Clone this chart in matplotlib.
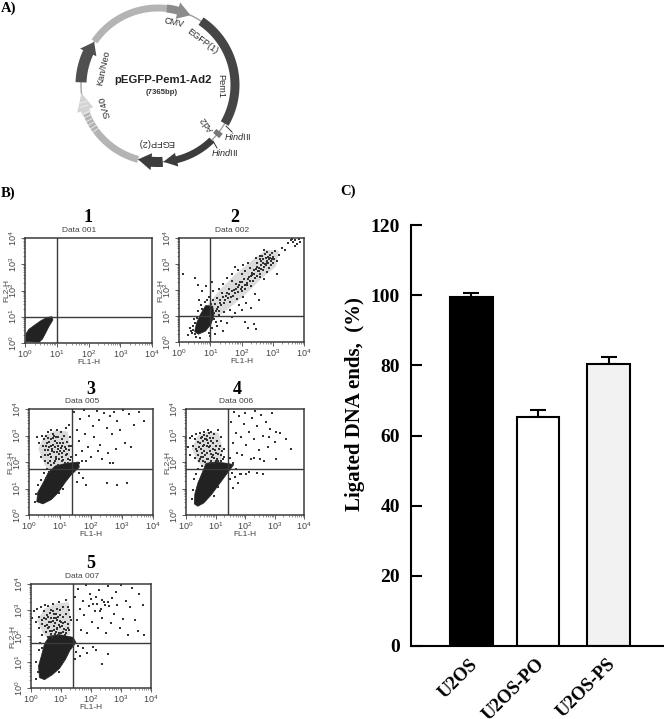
import numpy as np
import matplotlib
matplotlib.use("Agg")
import matplotlib.pyplot as plt
from matplotlib.patches import Polygon
from matplotlib.ticker import LogLocator, NullFormatter

plt.rcParams["font.family"] = ["Liberation Sans", "DejaVu Sans"]
plt.rcParams["mathtext.fontset"] = "custom"
plt.rcParams["mathtext.rm"] = "Liberation Sans"
plt.rcParams["mathtext.it"] = "Liberation Sans:italic"

W, H = 664, 719

# Panel C values
groups = ["U2OS", "U2OS-PO", "U2OS-PS"]
ligated = [99.5, 65.2, 80.3]
ligated_err = [1.2, 2.1, 2.0]
bar_colors = ["black", "white", "#f2f2f2"]
yticks_c = [0, 20, 40, 60, 80, 100, 120]

# Plasmid map segments: start angle, end angle, tip angle, width, head width, colour
seg_start = [145.5, 83.5, 56, -45.7, -86.5, -105, 178]
seg_end = [83.5, 75, -30, -76, -95, -160, 155]
seg_tip = [83.5, 65, -30, -86, -105, -160, 146]
seg_width = [7, 8, 9, 7, 10, 7, 11]
seg_head = [7, 17, 9, 14, 17, 7, 18]
seg_color = ["#b4b4b4", "#8c8c8c", "#454545", "#3c3c3c", "#3c3c3c", "#b4b4b4", "#505050"]

# Flow cytometry gates in log10 units (FL1-H, FL2-H)
gate_x = [1.0, 1.0, 1.40, 1.43, 1.41]
gate_y = [1.0, 1.0, 1.73, 1.74, 1.725]

# Dense cores read as outlines, log10 units
p1_core = [(0.03, 0.05), (0.03, 0.35), (0.12, 0.52), (0.3, 0.68), (0.5, 0.85), (0.7, 0.98), (0.85, 1.0),
           (0.88, 0.88), (0.75, 0.62), (0.65, 0.38), (0.55, 0.15), (0.45, 0.03)]
p2_core = [(0.5, 0.4), (0.56, 0.72), (0.68, 1.05), (0.85, 1.4), (1.08, 1.38), (1.12, 1.02), (1.02, 0.68), (0.85, 0.42), (0.62, 0.3)]
p3_core = [(0.25, 0.5), (0.28, 0.85), (0.45, 1.2), (0.62, 1.6), (0.85, 1.85), (1.2, 1.95), (1.6, 2.0), (1.62, 1.8),
           (1.35, 1.5), (1.15, 1.2), (0.95, 0.85), (0.72, 0.58), (0.45, 0.42)]
p4_core = [(0.28, 0.42), (0.3, 0.8), (0.4, 1.2), (0.55, 1.6), (0.68, 1.95), (1.0, 2.0), (1.4, 1.95), (1.62, 1.9),
           (1.45, 1.65), (1.25, 1.35), (1.05, 1.05), (0.85, 0.75), (0.6, 0.45), (0.4, 0.33)]
p5_core = [(0.28, 0.4), (0.25, 0.85), (0.35, 1.25), (0.45, 1.7), (0.62, 2.0), (0.95, 2.05), (1.4, 1.95), (1.5, 1.75),
           (1.3, 1.45), (1.15, 1.1), (0.95, 0.75), (0.7, 0.5), (0.45, 0.32)]

# Looser speckled regions, log10 units
p2_lobe = [(0.9, 1.4), (1.3, 2.0), (1.8, 2.6), (2.4, 3.2), (2.8, 3.55), (3.2, 3.5), (3.1, 2.9), (2.6, 2.4), (2.1, 1.8),
           (1.6, 1.3), (1.2, 0.95)]
p3_lobe = [(0.3, 2.5), (0.5, 3.0), (0.85, 3.2), (1.25, 3.15), (1.35, 2.5), (1.3, 2.0), (1.0, 1.8), (0.7, 1.6), (0.5, 1.9)]
p4_lobe = [(0.2, 2.5), (0.4, 3.0), (0.75, 3.15), (1.1, 3.1), (1.25, 2.5), (1.2, 2.0), (0.9, 1.9), (0.6, 1.8), (0.4, 2.0)]
p5_lobe = [(0.2, 2.6), (0.45, 3.05), (0.85, 3.25), (1.25, 3.3), (1.32, 2.6), (1.3, 2.05), (0.95, 1.95), (0.6, 1.85), (0.4, 2.1)]

p2_points = [(0.12, 2.62), (0.5, 2.45), (0.62, 2.2), (0.82, 1.55), (0.85, 2.15), (0.95, 1.75), (0.42, 0.35), (0.35, 0.55),
             (0.3, 0.28), (0.45, 0.62), (0.55, 0.2), (0.68, 0.15), (0.48, 0.9), (0.62, 1.2), (0.7, 1.42), (0.88, 1.62),
             (1.02, 1.48), (1.15, 1.45), (1.22, 1.7), (1.18, 1.2), (1.28, 1.05), (1.12, 0.88), (1.35, 0.82), (1.55, 0.72),
             (1.2, 0.62), (1.05, 0.52), (0.95, 0.35), (1.45, 1.15), (1.35, 1.42), (1.48, 1.62), (1.55, 1.9), (1.38, 1.88),
             (1.28, 2.05), (1.42, 2.25), (1.62, 1.55), (1.72, 1.78), (1.6, 2.05), (1.75, 2.0), (1.85, 1.65), (1.9, 1.92),
             (1.82, 2.22), (1.68, 2.35), (1.52, 2.48), (1.7, 2.62), (1.95, 2.32), (2.02, 2.12), (2.05, 1.75), (2.15, 1.5),
             (2.12, 2.05), (2.08, 2.42), (2.0, 2.62), (1.9, 2.78), (2.18, 2.28), (2.25, 2.5), (2.12, 2.72), (2.05, 2.95),
             (2.3, 2.15), (2.38, 2.35), (2.42, 1.85), (2.55, 1.6), (2.32, 2.65), (2.28, 2.85), (2.4, 2.78), (2.22, 3.05),
             (2.48, 2.55), (2.55, 2.85), (2.6, 2.62), (2.5, 3.05), (2.62, 3.12), (2.68, 2.78), (2.72, 2.42), (2.75, 3.0),
             (2.78, 3.25), (2.65, 3.32), (2.82, 3.12), (2.88, 2.85), (2.9, 3.35), (2.95, 3.1), (2.8, 3.45), (3.0, 3.28),
             (3.02, 3.05), (3.08, 3.5), (3.12, 2.6), (3.2, 3.35), (2.72, 3.55), (2.58, 3.3), (2.45, 3.22), (2.85, 3.02),
             (2.98, 3.42), (3.28, 3.62), (3.4, 3.55), (3.65, 3.85), (3.72, 3.92), (3.78, 3.78), (3.58, 3.92), (3.85, 3.95),
             (3.7, 3.7), (3.5, 3.8), (3.62, 3.98), (3.88, 3.85), (2.1, 0.78), (2.22, 0.55), (2.4, 0.7), (2.45, 0.5),
             (1.7, 0.95), (1.78, 1.1), (2.0, 1.25), (2.3, 1.3), (0.65, 1.62), (0.72, 1.95), (1.08, 1.98), (1.05, 2.3),
             (0.98, 0.22), (1.15, 0.3), (1.4, 0.42), (1.78, 2.88), (1.62, 1.22), (1.92, 1.42), (1.98, 2.05), (2.28, 2.35),
             (2.35, 2.58), (2.52, 2.72), (2.62, 2.95), (2.7, 3.18), (2.78, 2.95), (2.85, 3.28), (2.92, 3.22), (2.68, 3.05),
             (2.58, 2.5), (2.42, 2.45), (2.18, 2.18), (2.02, 1.98), (1.88, 2.1), (1.78, 1.88), (1.65, 1.72), (1.58, 1.68),
             (1.45, 1.5), (1.32, 1.62), (1.25, 1.35), (1.1, 1.6), (3.05, 3.18), (2.95, 2.95), (2.82, 2.68), (3.15, 3.1),
             (1.12, 1.12), (1.22, 1.28), (1.3, 1.5), (1.4, 1.72), (1.5, 1.78), (1.6, 1.85), (1.7, 1.95), (1.82, 2.02),
             (1.92, 2.2), (2.0, 2.3), (2.1, 2.2), (2.2, 2.42), (2.3, 2.52), (2.4, 2.62), (2.45, 2.82), (2.55, 2.72),
             (2.62, 2.82), (2.72, 2.88), (2.8, 3.05), (2.75, 3.38), (2.88, 3.18), (2.98, 3.18), (2.6, 3.18), (2.5, 2.9),
             (0.45, 0.48), (0.38, 0.42), (0.5, 0.3), (0.58, 0.92), (0.52, 0.72), (0.75, 1.28), (1.18, 0.78), (1.28, 1.2)]

p3_points = [(0.25, 2.95), (0.32, 2.72), (0.38, 2.2), (0.42, 3.0), (0.48, 2.85), (0.5, 2.45), (0.55, 2.98), (0.58, 2.7),
             (0.6, 2.25), (0.62, 3.12), (0.65, 2.55), (0.68, 2.05), (0.7, 2.85), (0.72, 3.2), (0.75, 2.4), (0.78, 2.65),
             (0.8, 1.95), (0.82, 3.0), (0.85, 2.8), (0.88, 2.2), (0.9, 3.22), (0.92, 2.5), (0.95, 2.95), (0.98, 2.1),
             (1.0, 2.7), (1.02, 3.15), (1.05, 2.35), (1.08, 2.85), (1.1, 2.08), (1.12, 3.0), (1.15, 2.55), (1.18, 2.25),
             (1.2, 3.3), (1.22, 2.75), (1.25, 2.1), (1.28, 3.38), (1.3, 2.45), (1.32, 2.95), (1.35, 2.2), (0.62, 2.9),
             (0.72, 2.62), (0.82, 2.38), (0.9, 2.72), (1.0, 2.42), (1.08, 2.62), (0.78, 3.05), (0.88, 2.95), (0.68, 2.32),
             (0.58, 1.75), (0.48, 1.6), (0.4, 1.32), (0.3, 1.15), (0.22, 0.8), (0.18, 0.5), (0.65, 1.62), (0.55, 1.38),
             (1.45, 3.9), (1.55, 3.2), (1.6, 2.8), (1.65, 3.62), (1.7, 2.4), (1.78, 3.95), (1.82, 3.05), (1.9, 2.55),
             (1.95, 3.72), (2.0, 2.2), (2.05, 3.35), (2.1, 2.95), (2.18, 3.92), (2.25, 3.6), (2.3, 2.65), (2.35, 2.1),
             (2.42, 3.85), (2.5, 3.3), (2.55, 2.35), (2.6, 3.75), (2.68, 3.05), (2.75, 3.88), (2.8, 2.5), (2.85, 3.55),
             (2.95, 3.2), (3.02, 3.95), (3.1, 2.7), (3.22, 3.82), (3.3, 2.55), (3.4, 3.4), (3.55, 3.9), (3.7, 3.55),
             (1.5, 2.25), (1.85, 2.05), (2.22, 2.4), (2.62, 1.95), (2.72, 1.95), (1.6, 1.95), (1.72, 2.05), (1.62, 1.58),
             (1.75, 1.4), (1.55, 1.25), (2.5, 1.2), (2.85, 1.15), (3.15, 1.22), (1.85, 1.12), (0.98, 0.82), (1.1, 1.0),
             (0.44, 2.62), (0.52, 2.28), (0.56, 2.6), (0.6, 2.45), (0.66, 2.75), (0.7, 2.18), (0.74, 2.5), (0.76, 2.9),
             (0.84, 2.58), (0.86, 2.12), (0.9, 2.38), (0.94, 2.62), (0.96, 2.3), (1.04, 2.52), (1.06, 2.18), (1.1, 2.72),
             (1.14, 2.4), (1.2, 2.5), (1.24, 2.3), (1.28, 2.62), (0.6, 1.95), (0.72, 1.88), (0.85, 2.02), (0.95, 1.9),
             (1.05, 2.02), (1.15, 1.98), (1.25, 1.98), (0.5, 2.05), (1.35, 2.6), (1.32, 2.08)]

p4_points = [(0.08, 2.55), (0.12, 2.9), (0.15, 2.25), (0.22, 3.0), (0.25, 2.6), (0.3, 2.15), (0.32, 2.85), (0.35, 3.05),
             (0.38, 2.4), (0.42, 2.75), (0.45, 2.05), (0.48, 3.1), (0.52, 2.5), (0.55, 2.95), (0.58, 2.2), (0.6, 3.15),
             (0.62, 2.65), (0.65, 2.0), (0.68, 2.85), (0.7, 3.0), (0.72, 2.35), (0.75, 3.2), (0.78, 2.55), (0.8, 1.95),
             (0.82, 2.9), (0.85, 3.15), (0.88, 2.2), (0.9, 2.7), (0.95, 3.05), (0.98, 2.45), (1.0, 2.05), (1.05, 2.8),
             (1.08, 3.2), (1.1, 2.3), (1.15, 2.6), (1.2, 2.95), (1.25, 2.1), (1.3, 2.5), (0.5, 2.92), (0.62, 3.02),
             (0.55, 2.35), (0.7, 2.6), (0.82, 2.42), (0.92, 2.25), (0.78, 3.08), (0.48, 2.72), (0.4, 2.28), (0.58, 2.78),
             (0.28, 1.35), (0.25, 0.95), (0.22, 0.6), (0.42, 1.75), (0.55, 1.85), (0.35, 1.55), (1.1, 1.05), (0.95, 0.72),
             (1.48, 2.15), (1.52, 3.5), (1.58, 2.7), (1.62, 3.9), (1.68, 3.1), (1.72, 2.35), (1.8, 3.72), (1.85, 2.95),
             (1.9, 2.25), (1.95, 3.45), (2.0, 3.85), (2.05, 2.65), (2.12, 3.15), (2.2, 2.1), (2.25, 3.65), (2.3, 2.85),
             (2.35, 3.92), (2.42, 3.35), (2.48, 2.45), (2.55, 3.78), (2.6, 3.0), (2.65, 2.05), (2.72, 3.5), (2.78, 2.55),
             (2.85, 3.25), (2.92, 3.85), (3.0, 2.75), (3.05, 2.1), (3.2, 3.1), (3.4, 2.85), (3.55, 2.5), (1.58, 1.95),
             (1.7, 1.72), (1.82, 1.55), (1.65, 1.45), (1.75, 1.2), (1.88, 1.55), (2.15, 1.62), (2.4, 1.58), (2.62, 1.55),
             (1.6, 1.02), (2.05, 1.55), (2.3, 2.15), (2.8, 2.95), (3.05, 3.15), (2.52, 2.1), (1.55, 1.6), (1.5, 1.35),
             (0.34, 2.5), (0.44, 2.58), (0.5, 2.2), (0.56, 2.62), (0.6, 2.42), (0.64, 2.88), (0.66, 2.25), (0.74, 2.72),
             (0.76, 2.12), (0.8, 2.62), (0.84, 2.3), (0.86, 2.78), (0.92, 2.5), (0.96, 2.15), (1.0, 2.6), (1.02, 2.35),
             (1.06, 2.12), (1.12, 2.48), (1.18, 2.28), (1.22, 2.42), (0.46, 2.12), (0.58, 2.05), (0.7, 2.1), (0.86, 2.05),
             (0.96, 1.98), (1.1, 2.05), (1.2, 2.02), (1.3, 2.2), (0.72, 2.82), (0.9, 2.92)]

p5_points = [(0.02, 2.7), (0.1, 2.95), (0.15, 2.55), (0.2, 3.05), (0.25, 2.75), (0.28, 2.3), (0.32, 3.1), (0.35, 2.6),
             (0.38, 2.05), (0.42, 2.95), (0.45, 3.2), (0.48, 2.4), (0.52, 2.8), (0.55, 1.95), (0.58, 3.15), (0.6, 2.55),
             (0.62, 2.2), (0.65, 3.0), (0.68, 2.7), (0.7, 1.98), (0.72, 3.25), (0.75, 2.4), (0.78, 2.85), (0.82, 2.15),
             (0.85, 3.05), (0.88, 2.6), (0.9, 2.02), (0.92, 3.3), (0.95, 2.35), (0.98, 2.8), (1.0, 2.1), (1.05, 3.1),
             (1.08, 2.5), (1.12, 2.05), (1.15, 2.85), (1.18, 3.4), (1.22, 2.3), (1.28, 3.0), (1.32, 2.6), (0.5, 2.65),
             (0.62, 2.88), (0.72, 2.58), (0.82, 2.68), (0.92, 2.42), (0.78, 2.25), (0.58, 2.32), (1.0, 2.55), (0.88, 2.28),
             (0.15, 0.35), (0.22, 0.6), (0.18, 1.0), (0.25, 1.45), (0.3, 1.75), (0.38, 1.55), (1.05, 1.0), (0.92, 0.6),
             (1.48, 3.5), (1.52, 2.6), (1.58, 3.8), (1.62, 3.05), (1.68, 2.25), (1.72, 3.35), (1.78, 2.8), (1.82, 3.95),
             (1.88, 2.1), (1.92, 3.15), (1.98, 3.6), (2.02, 2.55), (2.08, 3.25), (2.12, 2.95), (2.18, 3.5), (2.22, 2.3),
             (2.28, 3.78), (2.32, 3.05), (2.38, 2.7), (2.42, 3.3), (2.5, 2.1), (2.55, 3.92), (2.6, 3.15), (2.65, 2.5),
             (2.7, 3.45), (2.75, 2.85), (2.82, 3.7), (2.88, 3.2), (2.95, 2.3), (3.0, 3.95), (3.08, 2.65), (3.15, 3.35),
             (3.22, 2.05), (3.3, 3.1), (3.38, 3.85), (3.45, 2.6), (3.6, 3.6), (3.72, 3.2), (3.78, 2.05), (3.55, 2.2),
             (2.0, 3.42), (2.2, 3.25), (2.35, 3.4), (2.48, 3.18), (2.58, 3.32), (2.3, 2.95), (1.55, 1.6), (1.5, 1.4),
             (1.62, 1.22), (1.72, 1.52), (1.88, 1.35), (2.05, 1.58), (2.18, 1.45), (2.55, 1.3), (2.38, 0.92), (1.45, 1.1),
             (0.36, 2.45), (0.44, 2.7), (0.5, 2.15), (0.56, 2.75), (0.6, 2.35), (0.66, 2.55), (0.7, 2.2), (0.76, 2.7),
             (0.8, 2.5), (0.84, 2.85), (0.86, 2.32), (0.9, 2.72), (0.94, 2.12), (0.96, 2.58), (1.02, 2.4), (1.06, 2.72),
             (1.1, 2.28), (1.14, 2.55), (1.18, 2.12), (1.24, 2.48), (1.28, 2.25), (1.3, 2.72), (0.66, 2.08), (0.8, 2.08),
             (1.05, 2.15), (1.15, 2.25), (0.52, 2.42), (0.74, 2.95), (1.22, 3.1), (0.98, 3.0)]

# Flow panel boxes in pixels: left, right, top, bottom
panel_boxes = [(25, 152, 238, 343), (179, 304, 238, 342), (29, 153, 409, 515), (186, 304, 409, 515), (31, 151, 584, 688)]
panel_names = ["1", "2", "3", "4", "5"]
panel_name_x = [88, 235, 91, 237, 91]
panel_data = ["Data 001", "Data 002", "Data 005", "Data 006", "Data 007"]
panel_core = [p1_core, p2_core, p3_core, p4_core, p5_core]
panel_lobe = [[], p2_lobe, p3_lobe, p4_lobe, p5_lobe]
panel_points = [[], p2_points, p3_points, p4_points, p5_points]


def px_axes(left, right, top, bottom):
    return fig.add_axes([left / W, 1 - bottom / H, (right - left) / W, (bottom - top) / H])


fig = plt.figure(figsize=(W / 100, H / 100), dpi=100, facecolor="white")

# overlay in pixel coordinates for the plasmid map and panel letters
bg = fig.add_axes([0, 0, 1, 1])
bg.set_xlim(0, W)
bg.set_ylim(H, 0)
bg.axis("off")

cx, cy, rad = 158, 85, 77


def polar(r, a):
    a = np.radians(a)
    return cx + r * np.cos(a), cy - r * np.sin(a)


def band(a0, a1, tip, width, head, color):
    angs = np.linspace(a0, a1, 40)
    ox, oy = polar(rad + width / 2, angs)
    ix, iy = polar(rad - width / 2, angs)
    xs, ys = list(ox), list(oy)
    if abs(tip - a1) > 0.1:
        hx, hy = polar(rad + head / 2, a1)
        tx, ty = polar(rad, tip)
        kx, ky = polar(rad - head / 2, a1)
        xs += [hx, tx, kx]
        ys += [hy, ty, ky]
    xs += list(ix[::-1])
    ys += list(iy[::-1])
    bg.add_patch(Polygon(np.column_stack([xs, ys]), closed=True, fc=color, ec="none", zorder=2))


# thin backbone
ring = np.linspace(0, 360, 300)
bx, by = polar(rad, ring)
bg.plot(bx, by, color="#a0a0a0", lw=1.0, zorder=1)
for s, e, t, w, h, c in zip(seg_start, seg_end, seg_tip, seg_width, seg_head, seg_color):
    band(s, e, t, w, h, c)
band(202, 199, 186, 9, 17, "#d4d4d4")
for a in [201, 204, 207, 210, 213, 216, 196, 193]:
    x0, y0 = polar(rad - 4, a)
    x1, y1 = polar(rad + 4, a)
    bg.plot([x0, x1], [y0, y1], color="#efefef", lw=0.6, zorder=3)
band(-37, -41, -41, 8, 8, "#777777")
bg.plot([226, 232], [126, 132], color="#333333", lw=0.7)
bg.plot([213, 217], [141, 148], color="#333333", lw=0.7)

txt_col = "#2a2a2a"
bg.text(163, 80, "pEGFP-Pem1-Ad2", fontsize=8.2, fontweight="bold", ha="center", va="center", color="#222222")
bg.text(162, 92, "(7365bp)", fontsize=5.6, fontweight="bold", ha="center", va="center", color="#333333")
bg.text(174, 23, "CMV", fontsize=6.6, rotation=-12, ha="center", va="center", color=txt_col)
bg.text(202, 41, "EGFP(1)", fontsize=6.6, rotation=-37, ha="center", va="center", color=txt_col)
bg.text(221, 86, "Pem1", fontsize=6.6, rotation=-90, ha="center", va="center", color=txt_col)
bg.text(207, 124, "Ad2", fontsize=6.6, rotation=125, ha="center", va="center", color=txt_col)
bg.text(156, 143, "EGFP(2)", fontsize=6.6, rotation=180, ha="center", va="center", color=txt_col)
bg.text(105, 107, "SV40", fontsize=6.6, rotation=107, ha="center", va="center", color=txt_col)
bg.text(104, 68, "Kan/Neo", fontsize=6.6, rotation=78, ha="center", va="center", color=txt_col)
bg.text(238, 137, r"$\mathit{Hind}\mathrm{III}$", fontsize=6.6, ha="center", va="center", color=txt_col)
bg.text(225, 152, r"$\mathit{Hind}\mathrm{III}$", fontsize=6.6, ha="center", va="center", color=txt_col)

serif = "Liberation Serif"
bg.text(1, 8, "A)", family=serif, fontweight="bold", fontsize=10.5, va="center")
bg.text(1, 193, "B)", family=serif, fontweight="bold", fontsize=10.5, va="center")
bg.text(340, 191, "C)", family=serif, fontweight="bold", fontsize=10.5, va="center")

for i, box in enumerate(panel_boxes):
    left, right, top, bottom = box
    ax = px_axes(left, right, top, bottom)
    ax.set_xscale("log")
    ax.set_yscale("log")
    ax.set_xlim(1, 1e4)
    ax.set_ylim(1, 1e4)
    ax.patch.set_alpha(0)
    if panel_lobe[i]:
        lobe = np.power(10.0, np.array(panel_lobe[i]))
        ax.add_patch(Polygon(lobe, closed=True, fc="#c4c4c4", ec="none", alpha=0.6))
    core = np.power(10.0, np.array(panel_core[i]))
    ax.add_patch(Polygon(core, closed=True, fc="#222222", ec="#222222", lw=0.5))
    if panel_points[i]:
        pts = np.power(10.0, np.array(panel_points[i]))
        ax.scatter(pts[:, 0], pts[:, 1], s=1.0, c="#333333", marker="s", linewidths=0)
    ax.axvline(10 ** gate_x[i], color="#3a3a3a", lw=1.0)
    ax.axhline(10 ** gate_y[i], color="#3a3a3a", lw=1.0)
    for s in ax.spines.values():
        s.set_linewidth(1.1)
        s.set_color("#3a3a3a")
    for axis in (ax.xaxis, ax.yaxis):
        axis.set_major_locator(LogLocator(base=10, numticks=6))
        axis.set_minor_locator(LogLocator(base=10, subs=range(2, 10), numticks=6))
        axis.set_minor_formatter(NullFormatter())
    ax.tick_params(which="major", length=3, width=0.6, labelsize=6.5, pad=1, colors="#444444")
    ax.tick_params(which="minor", length=1.5, width=0.4, colors="#444444")
    for t in ax.get_yticklabels():
        t.set_rotation(90)
        t.set_va("center")
    ax.set_xlabel("FL1-H", fontsize=6, color="#444444", labelpad=-1)
    ax.set_ylabel("FL2-H", fontsize=6, color="#444444", labelpad=-2)
    bg.text((left + right) / 2 - 9, top - 4, panel_data[i], fontsize=6, color="#444444", ha="center", va="bottom")
    bg.text(panel_name_x[i], top - 20, panel_names[i], family=serif, fontweight="bold", fontsize=13,
            ha="center", va="center")

# Panel C bars
axc = px_axes(411, 664, 225, 646)
x_pos = [0, 0.97, 2]
axc.bar(x_pos, ligated, width=0.62, color=bar_colors, edgecolor="black", linewidth=1.5, zorder=2)
axc.errorbar(x_pos, ligated, yerr=[[0, 0, 0], ligated_err], fmt="none", ecolor="black", elinewidth=1.5,
             capsize=5.5, capthick=1.5, zorder=1)
axc.set_xlim(-0.883, 2.81)
axc.set_ylim(0, 120)
axc.spines["top"].set_visible(False)
axc.spines["right"].set_visible(False)
axc.spines["left"].set_linewidth(1.5)
axc.spines["bottom"].set_linewidth(1.5)
axc.set_yticks(yticks_c)
axc.set_yticklabels([str(v) for v in yticks_c], family=serif, fontweight="bold", fontsize=14)
axc.tick_params(axis="y", direction="in", length=8, width=1.5, pad=8)
axc.set_xticks([p - 0.03 for p in x_pos])
axc.set_xticklabels(groups, family=serif, fontweight="bold", fontsize=13.5, rotation=45, ha="right",
                    rotation_mode="anchor")
axc.tick_params(axis="x", length=0, pad=7)
axc.set_ylabel("Ligated DNA ends,  (%)", family=serif, fontweight="bold", fontsize=15, labelpad=4, y=0.575)

fig.savefig("out.png", dpi=100)
